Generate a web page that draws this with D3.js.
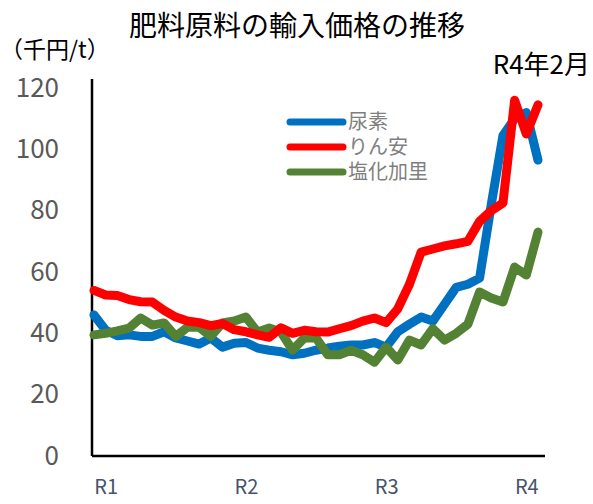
<!DOCTYPE html>
<meta charset="utf-8">
<style>
body { margin: 0; background: #fff; }
svg { font-family: "Noto Sans CJK JP", "Noto Sans", sans-serif; }
.axis .domain { display: none; }
.axis line { display: none; }
</style>
<svg width="593" height="504"></svg>
<script src="https://d3js.org/d3.v7.min.js"></script>
<script>
// months from 2018-12 to 2022-02
var months = ["2018-12","2019-01","2019-02","2019-03","2019-04","2019-05","2019-06","2019-07","2019-08","2019-09","2019-10","2019-11","2019-12",
  "2020-01","2020-02","2020-03","2020-04","2020-05","2020-06","2020-07","2020-08","2020-09","2020-10","2020-11","2020-12",
  "2021-01","2021-02","2021-03","2021-04","2021-05","2021-06","2021-07","2021-08","2021-09","2021-10","2021-11","2021-12",
  "2022-01","2022-02"];

var urea = [46,41,39.2,39.5,39,39,40.5,38.5,37.5,36.5,38.5,35.5,36.8,37,35.2,34.5,34,33,33.5,34.5,35.2,35.8,36.2,36.2,37,35.5,
  40.5,43,45.3,44,49.5,55,56,58,82,104.5,110,112,96.5];
var dap = [54,52.5,52.3,51,50.3,50.2,47.5,45.3,44,43.5,42.5,43.2,41.2,40.5,39.5,38.7,41.8,40,41,40.5,40.4,41.5,42.5,44,45,43.5,
  48,56,66.5,67.5,68.5,69.2,70,76.5,80,82.5,116,105,114.5];
var potash = [39.5,40,40.8,41.7,45,42.7,43.4,39,42,42,39,43.4,44,45.3,40.4,41.7,40.4,34.5,38.5,38.5,33,33,34.5,33,30.6,35.5,
  31.3,37.8,36.2,41.5,37.8,40,43,53.5,51.5,50.2,61.6,59,73];

var seriesNames = ["尿素", "りん安", "塩化加里"];
var seriesColors = ["#0070c0", "#ff0000", "#548235"];
var yTicks = [0, 20, 40, 60, 80, 100, 120];
var xTickMonths = ["2019-01", "2020-01", "2021-01", "2022-01"];
var xTickLabels = ["R1", "R2", "R3", "R4"];

var svg = d3.select("svg"),
    margin = {top: 88, left: 92},
    width = 453,
    height = 368,
    g = svg.append("g").attr("transform", "translate(" + margin.left + "," + margin.top + ")");

var x = d3.scalePoint()
    .domain(months)
    .range([2, 446]);

var y = d3.scaleLinear()
    .domain([0, 120])
    .range([height, 0]);

var series = [urea, dap, potash];

// title
svg.append("text")
    .attr("x", 297)
    .attr("y", 36)
    .attr("text-anchor", "middle")
    .attr("font-size", 28)
    .attr("fill", "#000")
    .text("肥料原料の輸入価格の推移");

svg.append("text")
    .attr("x", 0)
    .attr("y", 58)
    .attr("font-size", 23)
    .attr("fill", "#000")
    .text("（千円/t）");

svg.append("text")
    .attr("x", 590)
    .attr("y", 74)
    .attr("text-anchor", "end")
    .attr("font-size", 26)
    .attr("fill", "#000")
    .text("R4年2月");

// y axis labels
g.append("g")
    .attr("class", "axis")
    .call(d3.axisLeft(y).tickValues(yTicks).tickSize(0).tickPadding(33))
    .selectAll("text")
      .attr("font-size", 26)
      .attr("fill", "#595959")
      .attr("font-family", "'Noto Sans CJK JP', sans-serif");

g.append("g")
    .attr("class", "axis")
    .attr("transform", "translate(0," + height + ")")
    .call(d3.axisBottom(x).tickValues(xTickMonths).tickSize(0).tickPadding(24)
      .tickFormat(function(d) { return xTickLabels[xTickMonths.indexOf(d)]; }))
    .selectAll("text")
      .attr("font-size", 20)
      .attr("fill", "#44546a")
      .attr("font-family", "'Noto Sans CJK JP', sans-serif");

// axis lines
g.append("line")
    .attr("x1", 0).attr("x2", 0)
    .attr("y1", -9).attr("y2", y(0))
    .attr("stroke", "#000").attr("stroke-width", 2.5);
g.append("line")
    .attr("x1", 0).attr("x2", width)
    .attr("y1", y(0)).attr("y2", y(0))
    .attr("stroke", "#000").attr("stroke-width", 2.5);

var line = d3.line()
    .x(function(d, i) { return x(months[i]); })
    .y(function(d) { return y(d); });

// draw blue first, then green, red on top
[0, 2, 1].forEach(function(k) {
  g.append("path")
      .datum(series[k])
      .attr("fill", "none")
      .attr("stroke", seriesColors[k])
      .attr("stroke-width", 9)
      .attr("stroke-linejoin", "round")
      .attr("stroke-linecap", "round")
      .attr("d", line);
});

var legend = svg.append("g")
    .selectAll("g")
    .data(seriesNames)
    .enter().append("g")
      .attr("transform", function(d, i) { return "translate(290," + (122 + i * 25) + ")"; });

legend.append("line")
    .attr("x1", 0).attr("x2", 53)
    .attr("stroke", function(d, i) { return seriesColors[i]; })
    .attr("stroke-width", 7)
    .attr("stroke-linecap", "round");

legend.append("text")
    .attr("x", 58)
    .attr("dy", "0.35em")
    .attr("font-size", 20)
    .attr("fill", "#7f7f7f")
    .text(function(d) { return d; });
</script>
